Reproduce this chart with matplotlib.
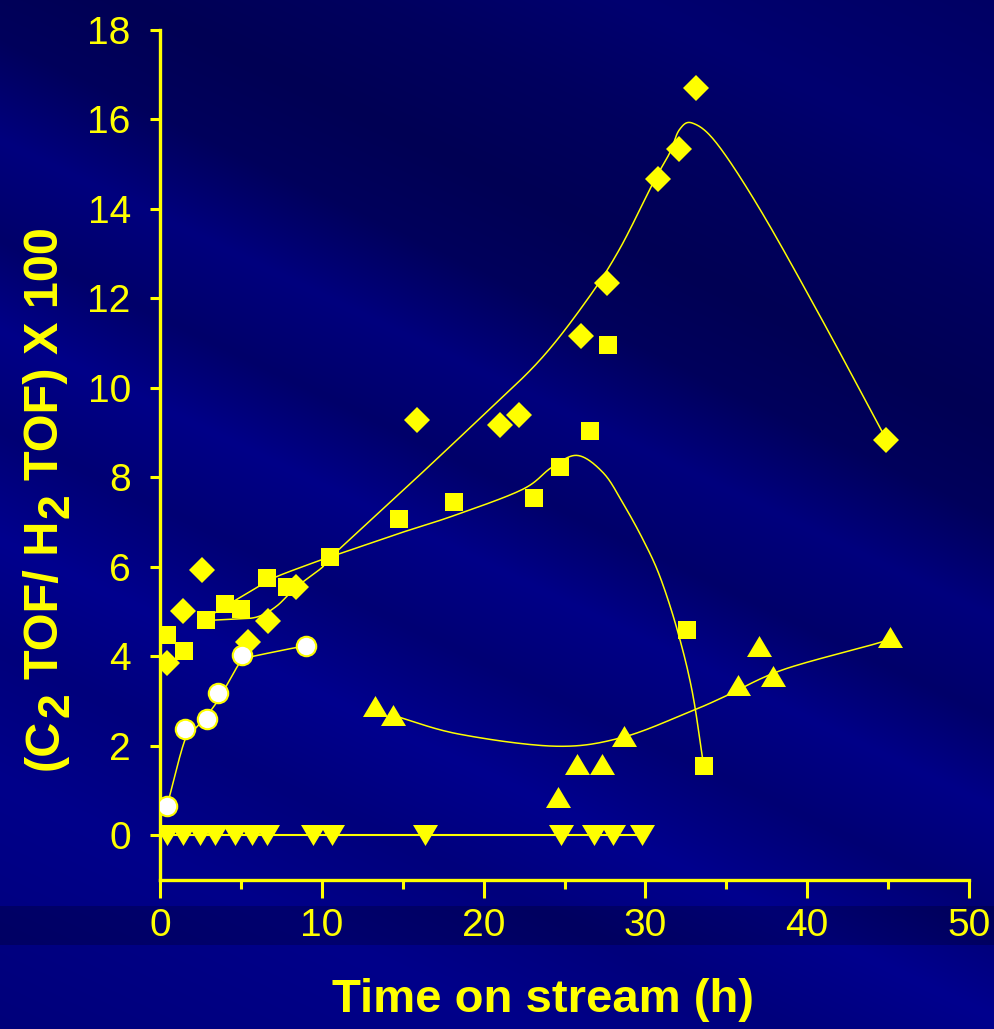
import matplotlib
matplotlib.use("Agg")
import matplotlib.pyplot as plt
from matplotlib.ticker import MultipleLocator, FixedLocator
import numpy as np

plt.rcParams['font.family'] = ['Liberation Sans', 'DejaVu Sans']

YEL = '#ffff00'

# diamonds
dia_x = [0.43, 1.42, 2.6, 5.44, 6.67, 8.4, 15.9, 21.0, 22.2, 26.0, 27.6, 30.8, 32.1, 33.1, 44.9]
dia_y = [3.84, 5.02, 5.92, 4.33, 4.78, 5.54, 9.29, 9.16, 9.40, 11.17, 12.35, 14.67, 15.34, 16.7, 8.84]

# squares
sq_x = [0.43, 1.48, 2.84, 4.0, 5.0, 6.6, 7.85, 10.5, 14.8, 18.2, 23.1, 24.7, 26.6, 27.7, 32.6, 33.6]
sq_y = [4.47, 4.11, 4.82, 5.18, 5.05, 5.76, 5.54, 6.21, 7.06, 7.44, 7.55, 8.24, 9.04, 10.96, 4.58, 1.54]

# open circles
circ_x = [0.43, 1.55, 2.9, 3.6, 5.07, 9.0]
circ_y = [0.65, 2.37, 2.61, 3.19, 4.04, 4.22]

# up triangles
up_x = [13.3, 14.4, 24.6, 25.8, 27.3, 28.7, 35.7, 37.0, 37.9, 45.1]
up_y = [2.9, 2.68, 0.85, 1.59, 1.59, 2.21, 3.35, 4.22, 3.55, 4.44]

# down triangles (all zero)
dn_x = [0.43, 1.42, 2.47, 3.4, 4.64, 5.69, 6.61, 9.46, 10.6, 16.4, 24.8, 26.8, 28.0, 29.8]
dn_y = [0] * len(dn_x)

# hand-drawn trend lines (knots)
dia_fit_x = [2.84, 4.5, 6.0, 7.2, 8.4, 10.0, 10.5, 15.0, 19.8, 23.5, 26.4, 28.4, 30.5, 31.5, 32.1,
             32.9, 34.4, 37.1, 40.8, 44.9]
dia_fit_y = [4.8, 4.83, 4.88, 5.12, 5.54, 5.98, 6.2, 7.7, 9.33, 10.63, 11.97, 13.1, 14.6, 15.25, 15.77,
             15.92, 15.47, 13.98, 11.6, 8.84]
sq_fit_x = [2.84, 3.5, 6.0, 7.2, 10.0, 10.5, 14.8, 18.2, 22.4, 24.2, 25.8, 27.4, 28.6, 29.85, 30.9,
            32.0, 32.9, 33.6]
sq_fit_y = [4.82, 5.0, 5.54, 5.78, 6.16, 6.22, 6.75, 7.15, 7.73, 8.22, 8.49, 8.1, 7.43, 6.61, 5.78,
            4.55, 3.2, 1.55]
circ_fit_x = [0.43, 1.55, 2.3, 3.5, 5.07, 5.75, 8.47, 9.0]
circ_fit_y = [0.65, 2.14, 2.43, 2.97, 3.93, 4.0, 4.2, 4.22]
up_fit_x = [14.4, 18.5, 24.5, 28.6, 32.8, 34.9, 38.5, 44.5, 45.1]
up_fit_y = [2.68, 2.26, 1.99, 2.19, 2.77, 3.1, 3.7, 4.31, 4.44]


def smooth(xs, ys, n=25):
    # Catmull-Rom through the knots
    p = np.column_stack([xs, ys]).astype(float)
    p = np.vstack([2 * p[0] - p[1], p, 2 * p[-1] - p[-2]])
    out = []
    t = np.linspace(0, 1, n)[:, None]
    for i in range(1, len(p) - 2):
        p0, p1, p2, p3 = p[i - 1], p[i], p[i + 1], p[i + 2]
        seg = 0.5 * ((2 * p1) + (-p0 + p2) * t + (2 * p0 - 5 * p1 + 4 * p2 - p3) * t ** 2
                     + (-p0 + 3 * p1 - 3 * p2 + p3) * t ** 3)
        out.append(seg if i == 1 else seg[1:])
    out = np.vstack(out)
    return out[:, 0], out[:, 1]


W, H = 995, 1029
fig = plt.figure(figsize=(W / 100, H / 100), dpi=100)

# streaky navy backdrop
bg = fig.add_axes([0, 0, 1, 1], zorder=-1)
yy, xx = np.mgrid[0:H, 0:W]
u = yy - 0.48 * xx
band_u = [-480, -300, -180, -60, 40, 140, 240, 330, 430, 540, 650, 780, 1030]
band_b = [100, 112, 95, 84, 92, 126, 106, 136, 116, 142, 124, 138, 122]
blue = np.interp(u, band_u, band_b)
blue = np.where((yy > 905) & (yy < 945), blue - 28, blue)
img = np.zeros((H, W, 3))
img[..., 2] = blue / 255.0
bg.imshow(img, aspect='auto', extent=[0, 1, 0, 1], origin='upper')
bg.axis('off')

ax = fig.add_axes([160 / W, 1 - 880 / H, (969 - 160) / W, (880 - 30) / H])
ax.set_facecolor('none')

for fx, fy in [(dia_fit_x, dia_fit_y), (sq_fit_x, sq_fit_y),
               (circ_fit_x, circ_fit_y), (up_fit_x, up_fit_y)]:
    sx, sy = smooth(fx, fy)
    ax.plot(sx, sy, color=YEL, lw=1.1, zorder=2)
ax.plot([dn_x[0], dn_x[-1]], [0, 0], color=YEL, lw=1.5, zorder=2)

tri_up = [(0, 0.84), (-1, -0.84), (1, -0.84)]
tri_dn = [(0, -0.84), (-1, 0.84), (1, 0.84)]
ax.plot(dia_x, dia_y, 'D', ms=13.7, color=YEL, mew=0, zorder=3)
ax.plot(sq_x, sq_y, 's', ms=13.5, color=YEL, mew=0, zorder=3)
ax.plot(up_x, up_y, ls='none', marker=tri_up, ms=18, color=YEL, mew=0, zorder=3)
ax.plot(dn_x, dn_y, ls='none', marker=tri_dn, ms=18, color=YEL, mew=0, zorder=3)
ax.plot(circ_x, circ_y, 'o', ms=14, mfc='white', mec=YEL, mew=1.5, zorder=4)

ax.set_xlim(0, 50)
ax.set_ylim(-1, 18)
ax.xaxis.set_major_locator(MultipleLocator(10))
ax.xaxis.set_minor_locator(MultipleLocator(5))
ax.yaxis.set_major_locator(MultipleLocator(2))
ax.yaxis.set_minor_locator(FixedLocator([0, 10]))

for s in ['top', 'right']:
    ax.spines[s].set_visible(False)
for s in ['left', 'bottom']:
    ax.spines[s].set_color(YEL)
    ax.spines[s].set_linewidth(2.4)

ax.tick_params(axis='both', which='both', colors=YEL, width=2.2, labelsize=28)
ax.tick_params(axis='x', which='major', length=13, pad=7)
ax.tick_params(axis='x', which='minor', length=6.5)
ax.tick_params(axis='y', which='major', length=7, pad=14)
ax.tick_params(axis='y', which='minor', length=12.5)

fig.text(543 / W, 1 - 1000 / H, 'Time on stream (h)', color=YEL, fontsize=34,
         fontweight='bold', ha='center', va='center')

# y label built piece by piece so the subscripts stay large
renderer = fig.canvas.get_renderer()
ylab_parts = [('(C', False), ('2', True), ('TOF/ H', False), ('2', True), ('TOF) X 100', False)]
fs_main, fs_sub = 35, 32
base_x = 58
pos_y = 770.0
for txt, sub in ylab_parts:
    t = fig.text((base_x + (10 if sub else 0)) / W, 1 - pos_y / H, txt, color=YEL,
                 fontsize=fs_sub if sub else fs_main, fontweight='bold', rotation=90,
                 rotation_mode='anchor', ha='left', va='baseline')
    pos_y -= t.get_window_extent(renderer).height
    pos_y -= 0.278 * fs_main * 100 / 72 if sub else 2

fig.savefig('out.png', dpi=100)
